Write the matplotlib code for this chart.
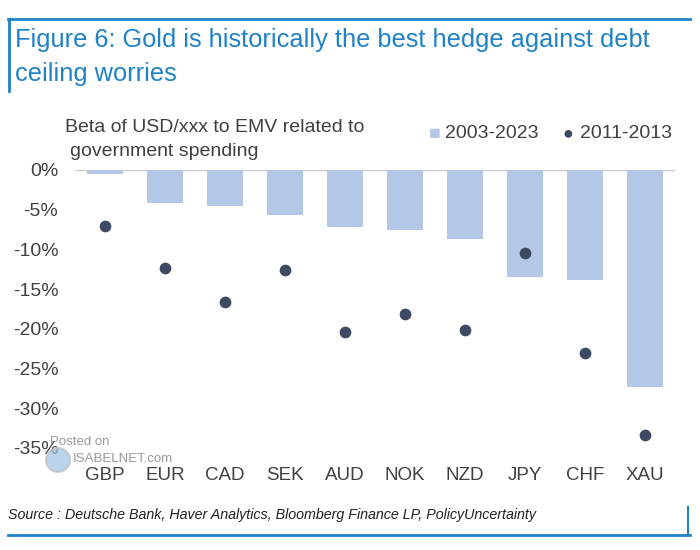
import matplotlib.pyplot as plt
from matplotlib.lines import Line2D
from matplotlib.patches import Ellipse
from matplotlib.ticker import FuncFormatter

currencies = ["GBP", "EUR", "CAD", "SEK", "AUD", "NOK", "NZD", "JPY", "CHF", "XAU"]
beta_2003_2023 = [-0.5, -4.1, -4.5, -5.7, -7.2, -7.5, -8.7, -13.5, -13.9, -27.3]
beta_2011_2013 = [-7.1, -12.4, -16.6, -12.6, -20.4, -18.1, -20.2, -10.5, -23.0, -33.4]
yticks = [0, -5, -10, -15, -20, -25, -30, -35]

blue = "#1f82c6"
bar_col = "#b4c7e7"
dot_col = "#3c4b61"
txt_col = "#404040"

plt.rcParams['font.family'] = ['Liberation Sans', 'DejaVu Sans']

fig = plt.figure(figsize=(7, 5.5), dpi=100)
ax = fig.add_axes([0.1071, 0.1855, 0.857, 0.5055])

x = list(range(len(currencies)))
ax.bar(x, beta_2003_2023, width=0.61, color=bar_col, zorder=2)
ax.scatter(x, beta_2011_2013, s=55, color=dot_col, zorder=3)
ax.axhline(0, color="#c8c8c8", lw=1, zorder=1)

ax.set_xlim(-0.5, len(currencies) - 0.5)
ax.set_ylim(-35, 0)
ax.set_yticks(yticks)
ax.yaxis.set_major_formatter(FuncFormatter(lambda v, p: "%d%%" % v))
ax.set_xticks(x)
ax.set_xticklabels(currencies)
ax.tick_params(axis='y', length=0, pad=12, labelsize=14, labelcolor=txt_col)
ax.tick_params(axis='x', length=0, pad=14, labelsize=13.5, labelcolor=txt_col)
for s in ax.spines.values():
    s.set_visible(False)

# title and frame
fig.text(15 / 700, 1 - 47 / 550, "Figure 6: Gold is historically the best hedge against debt",
         color=blue, fontsize=18.3, va='baseline', ha='left')
fig.text(15 / 700, 1 - 81 / 550, "ceiling worries",
         color=blue, fontsize=18.3, va='baseline', ha='left')
fig.add_artist(Line2D([8 / 700, 690 / 700], [1 - 19 / 550, 1 - 19 / 550], color=blue, lw=2))
fig.add_artist(Line2D([9 / 700, 9 / 700], [1 - 19 / 550, 1 - 91 / 550], color=blue, lw=2))
fig.add_artist(Line2D([8 / 700, 690 / 700], [1 - 535 / 550, 1 - 535 / 550], color=blue, lw=2))
fig.add_artist(Line2D([688 / 700, 688 / 700], [1 - 535 / 550, 1 - 507 / 550], color=blue, lw=1.5))

# axis note
fig.text(65 / 700, 1 - 128 / 550, "Beta of USD/xxx to EMV related to",
         color=txt_col, fontsize=14, va='center', ha='left')
fig.text(70 / 700, 1 - 151 / 550, "government spending",
         color=txt_col, fontsize=14, va='center', ha='left')

# legend
fig.text(429 / 700, 1 - 134 / 550, "\u25A0", color=bar_col, fontsize=14, va='center', ha='left')
fig.text(445 / 700, 1 - 133 / 550, "2003-2023", color=txt_col, fontsize=14, va='center', ha='left')
fig.text(563 / 700, 1 - 134 / 550, "\u25CF", color=dot_col, fontsize=13, va='center', ha='left')
fig.text(580 / 700, 1 - 133 / 550, "2011-2013", color=txt_col, fontsize=14, va='center', ha='left')

# watermark
fig.add_artist(Ellipse((58 / 700, 1 - 460 / 550), 24 / 700, 24 / 550, transform=fig.transFigure,
                       facecolor="#9ec3e6", edgecolor="#c0c0c0", lw=1.5, alpha=0.7))
fig.text(50 / 700, 1 - 442 / 550, "Posted on", color="#808080", fontsize=9.5, va='center', ha='left', alpha=0.8)
fig.text(73 / 700, 1 - 459 / 550, "ISABELNET.com", color="#808080", fontsize=9.5, va='center', ha='left', alpha=0.8)

# source
fig.text(8 / 700, 1 - 515 / 550, "Source : Deutsche Bank, Haver Analytics, Bloomberg Finance LP, PolicyUncertainty",
         color="#202020", fontsize=10.3, style='italic', va='center', ha='left')

fig.savefig("out.png", dpi=100)
